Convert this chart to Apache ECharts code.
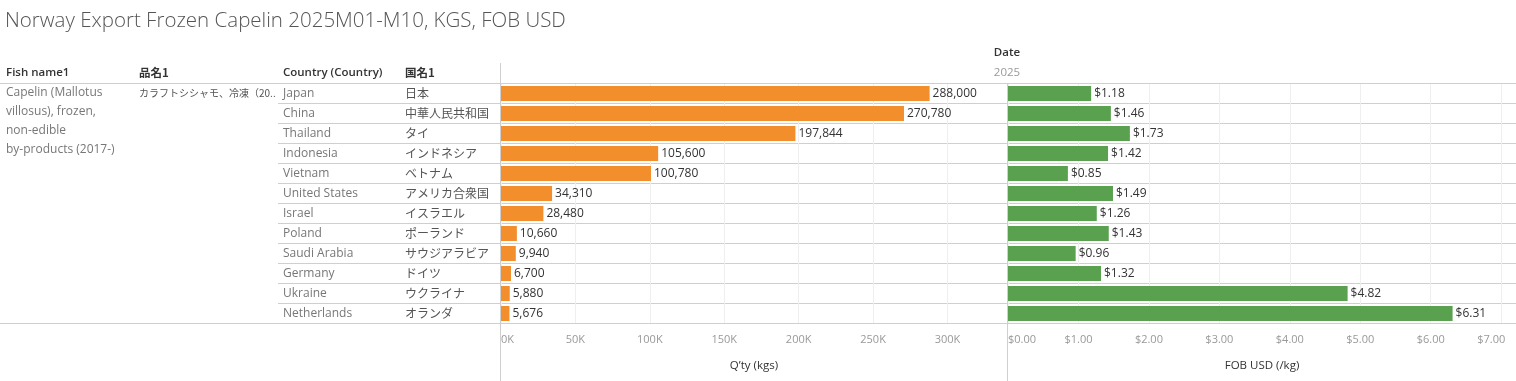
<!DOCTYPE html>
<html>
<head>
<meta charset="utf-8">
<script src="https://cdn.jsdelivr.net/npm/echarts@6/dist/echarts.min.js"></script>
<style>
html,body{margin:0;padding:0;background:#fff;}
#c{width:1516px;height:381px;}
</style>
</head>
<body>
<div id="c"></div>
<script>
const countries = ['Japan','China','Thailand','Indonesia','Vietnam','United States','Israel','Poland','Saudi Arabia','Germany','Ukraine','Netherlands'];
const countriesJa = ['日本','中華人民共和国','タイ','インドネシア','ベトナム','アメリカ合衆国','イスラエル','ポーランド','サウジアラビア','ドイツ','ウクライナ','オランダ'];
const qtyKgs = [288000,270780,197844,105600,100780,34310,28480,10660,9940,6700,5880,5676];
const fobUsdPerKg = [1.18,1.46,1.73,1.42,0.85,1.49,1.26,1.43,0.96,1.32,4.82,6.31];
const fishNameLines = ['Capelin (Mallotus','villosus), frozen,','non-edible','by-products (2017-)'];
const fishNameJa = 'カラフトシシャモ、冷凍（20..';
const headers = ['Fish name1','品名1','Country (Country)','国名1'];
const titleText = 'Norway Export Frozen Capelin 2025M01-M10, KGS, FOB USD';
const dateHeader = 'Date';
const yearLabel = '2025';
const qtyAxisTitle = 'Q’ty (kgs)';
const fobAxisTitle = 'FOB USD (/kg)';

const FONT = "'Open Sans', 'Noto Sans CJK JP', sans-serif";
const JFONT = "'Noto Sans CJK JP', 'Open Sans', sans-serif";
const LINE = '#cfcfcf';

const chart = echarts.init(document.getElementById('c'), null, {renderer:'canvas'});

const graphics = [];
graphics.push({type:'text', x:5, y:21, style:{text:titleText, font:"300 20.5px "+FONT, fill:'#555', verticalAlign:'middle'}});
const hx = [6,139,283,405];
headers.forEach((h,i)=>{
  graphics.push({type:'text', x:hx[i], y:73, style:{text:h, font:"600 11.5px "+(i%2? JFONT:FONT), fill:'#333', verticalAlign:'middle'}});
});
graphics.push({type:'text', x:1007, y:53, style:{text:dateHeader, font:"600 11.5px "+FONT, fill:'#333', align:'center', verticalAlign:'middle'}});
graphics.push({type:'text', x:1007, y:73, style:{text:yearLabel, font:"11.5px "+FONT, fill:'#999', align:'center', verticalAlign:'middle'}});
fishNameLines.forEach((t,i)=>{
  graphics.push({type:'text', x:6, y:93+i*18.8, style:{text:t, font:"12px "+FONT, fill:'#777', verticalAlign:'middle'}});
});
graphics.push({type:'text', x:139, y:93, style:{text:fishNameJa, font:"10px "+JFONT, fill:'#555', verticalAlign:'middle'}});
// frame lines
graphics.push({type:'line', shape:{x1:0,y1:83.5,x2:1516,y2:83.5}, style:{stroke:LINE, lineWidth:1}, z:10});
graphics.push({type:'line', shape:{x1:0,y1:323.5,x2:1516,y2:323.5}, style:{stroke:LINE, lineWidth:1}, z:10});
graphics.push({type:'line', shape:{x1:500.5,y1:63,x2:500.5,y2:381}, style:{stroke:LINE, lineWidth:1}, z:10});
graphics.push({type:'line', shape:{x1:1007.5,y1:83,x2:1007.5,y2:381}, style:{stroke:LINE, lineWidth:1}, z:10});

const option = {
  animation:false,
  textStyle:{fontFamily:FONT},
  graphic:graphics,
  grid:[
    {left:501, top:83.5, width:506, height:240, containLabel:false},
    {left:1008, top:83.5, width:508, height:240, containLabel:false}
  ],
  xAxis:[
    {gridIndex:0, type:'value', min:0, max:340000, interval:50000,
     axisLine:{show:false}, axisTick:{show:false},
     splitLine:{show:true, lineStyle:{color:'#efefef'}},
     axisLabel:{color:'#999', fontSize:11, fontFamily:FONT, margin:11, showMaxLabel:false, alignMinLabel:'left',
       formatter:v=> (v/1000)+'K'},
     name:qtyAxisTitle, nameLocation:'middle', nameGap:36,
     nameTextStyle:{color:'#333', fontSize:11.5, fontFamily:FONT}},
    {gridIndex:1, type:'value', min:0, max:7.21, interval:1,
     axisLine:{show:false}, axisTick:{show:false},
     splitLine:{show:true, lineStyle:{color:'#efefef'}},
     axisLabel:{color:'#999', fontSize:11, fontFamily:FONT, margin:11, showMaxLabel:false, alignMinLabel:'left',
       formatter:v=> v===7 ? '{r|$7.00}' : '$'+v.toFixed(2),
       rich:{r:{color:'#999', fontSize:11, fontFamily:FONT, padding:[0,20,0,0]}}},
     name:fobAxisTitle, nameLocation:'middle', nameGap:36,
     nameTextStyle:{color:'#333', fontSize:11.5, fontFamily:FONT}}
  ],
  yAxis:[
    {gridIndex:0, type:'category', data:countries, inverse:true,
     axisLine:{show:false},
     axisTick:{show:true, length:223, interval:0, alignWithLabel:false, lineStyle:{color:LINE}},
     splitLine:{show:true, interval:0, lineStyle:{color:LINE}},
     axisLabel:{interval:0, margin:218, align:'left',
       formatter:(v,i)=>'{a|'+v+'}{b|'+countriesJa[i]+'}',
       rich:{
         a:{width:122, color:'#777', fontSize:12, fontFamily:FONT, align:'left'},
         b:{width:95, color:'#555', fontSize:12, fontFamily:JFONT, align:'left'}
       }}},
    {gridIndex:1, type:'category', data:countries, inverse:true,
     axisLine:{show:false}, axisTick:{show:false}, axisLabel:{show:false},
     splitLine:{show:true, interval:0, lineStyle:{color:LINE}}}
  ],
  series:[
    {type:'bar', xAxisIndex:0, yAxisIndex:0, data:qtyKgs, barWidth:15,
     itemStyle:{color:'#F28E2B'},
     label:{show:true, position:'right', distance:3, color:'#333', fontSize:12, fontFamily:FONT,
       formatter:p=>p.value.toLocaleString('en-US')}},
    {type:'bar', xAxisIndex:1, yAxisIndex:1, data:fobUsdPerKg, barWidth:15,
     itemStyle:{color:'#59A14F'},
     label:{show:true, position:'right', distance:3, color:'#333', fontSize:12, fontFamily:FONT,
       formatter:p=>'$'+p.value.toFixed(2)}}
  ]
};
chart.setOption(option);
</script>
</body>
</html>
